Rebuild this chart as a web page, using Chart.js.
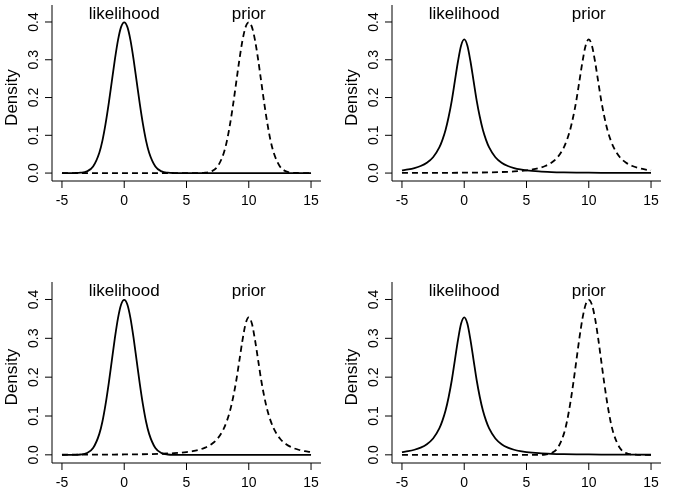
<!DOCTYPE html>
<html><head>
<script src="https://cdn.jsdelivr.net/npm/chart.js@4"></script>
<style>
body{margin:0;background:#fff;}
.p{position:absolute;width:340px;}
</style></head><body>
<div class="p" style="left:0;top:0;height:246px"><canvas id="c0"></canvas></div>
<div class="p" style="left:340px;top:0;height:246px"><canvas id="c1"></canvas></div>
<div class="p" style="left:0;top:246px;height:247px"><canvas id="c2"></canvas></div>
<div class="p" style="left:340px;top:246px;height:247px"><canvas id="c3"></canvas></div>
<script>
// distance from the centre of a curve, and density read at that distance
var offsets = [0,0.25,0.5,0.75,1,1.25,1.5,1.75,2,2.5,3,3.5,4,4.5,5,6,7,8,9,10,11,12,13,14,15];
var normalDens = [0.399,0.387,0.352,0.301,0.242,0.183,0.130,0.086,0.054,0.0175,0.0044,0.0009,0.0001,0,0,0,0,0,0,0,0,0,0,0,0];
var heavyDens = [0.354,0.338,0.296,0.244,0.192,0.149,0.114,0.088,0.068,0.042,0.0274,0.0186,0.0131,0.0095,0.0071,0.0043,0.00275,0.00186,0.00132,0.00097,0.00073,0.00057,0.00045,0.00036,0.00029];
var likelihoodCentre = 0, priorCentre = 10;
// per panel: [likelihood shape, prior shape]
var panels = [['n','n'],['t','t'],['n','t'],['t','n']];
var xTicks = [-5,0,5,10,15];
var yTicks = [0,0.1,0.2,0.3,0.4];

function curve(centre, dens) {
  var pts = [];
  for (var i = offsets.length - 1; i > 0; i--) {
    var x = centre - offsets[i];
    if (x >= -5) pts.push({x: x, y: dens[i]});
  }
  for (var i = 0; i < offsets.length; i++) {
    var x = centre + offsets[i];
    if (x <= 15) pts.push({x: x, y: dens[i]});
  }
  return pts;
}

var font = '"Liberation Sans", Arial, sans-serif';
var axesPlugin = {
  id: 'raxes',
  afterDraw: function(chart) {
    var c = chart.ctx, a = chart.chartArea, xs = chart.scales.x, ys = chart.scales.y;
    c.save();
    c.strokeStyle = '#000'; c.fillStyle = '#000'; c.lineWidth = 1;
    c.beginPath();
    c.moveTo(a.left, a.top); c.lineTo(a.left, a.bottom); c.lineTo(a.right, a.bottom);
    xTicks.forEach(function(t){ var px = xs.getPixelForValue(t); c.moveTo(px, a.bottom); c.lineTo(px, a.bottom + 7); });
    yTicks.forEach(function(t){ var py = ys.getPixelForValue(t); c.moveTo(a.left, py); c.lineTo(a.left - 7, py); });
    c.stroke();
    c.font = '14px ' + font; c.textAlign = 'center'; c.textBaseline = 'middle';
    xTicks.forEach(function(t){ c.fillText(String(t), xs.getPixelForValue(t), a.bottom + 20); });
    yTicks.forEach(function(t){
      c.save(); c.translate(a.left - 18, ys.getPixelForValue(t)); c.rotate(-Math.PI/2);
      c.fillText(t.toFixed(1), 0, 0); c.restore();
    });
    c.font = '17px ' + font;
    c.save(); c.translate(12, ys.getPixelForValue(0.2)); c.rotate(-Math.PI/2);
    c.fillText('Density', 0, 0); c.restore();
    c.fillText('likelihood', xs.getPixelForValue(likelihoodCentre), ys.getPixelForValue(0.42));
    c.fillText('prior', xs.getPixelForValue(priorCentre), ys.getPixelForValue(0.42));
    c.restore();
  }
};

panels.forEach(function(p, i) {
  var top = i < 2 ? 5 : 36, bottom = i < 2 ? 65 : 30;
  new Chart(document.getElementById('c' + i), {
    type: 'line',
    data: {datasets: [
      {data: curve(likelihoodCentre, p[0] == 'n' ? normalDens : heavyDens), borderColor: '#000', borderWidth: 1.8},
      {data: curve(priorCentre, p[1] == 'n' ? normalDens : heavyDens), borderColor: '#000', borderWidth: 1.8, borderDash: [6, 4]}
    ]},
    options: {
      responsive: true, maintainAspectRatio: false, animation: false,
      layout: {padding: {left: 52, right: 19, top: top, bottom: bottom}},
      elements: {point: {radius: 0}, line: {tension: 0.4, cubicInterpolationMode: 'monotone'}},
      plugins: {legend: {display: false}, tooltip: {enabled: false}},
      scales: {
        x: {type: 'linear', min: -5.8, max: 15.8, display: false},
        y: {min: -0.021, max: 0.445, display: false}
      }
    },
    plugins: [axesPlugin]
  });
});
</script>
</body></html>
